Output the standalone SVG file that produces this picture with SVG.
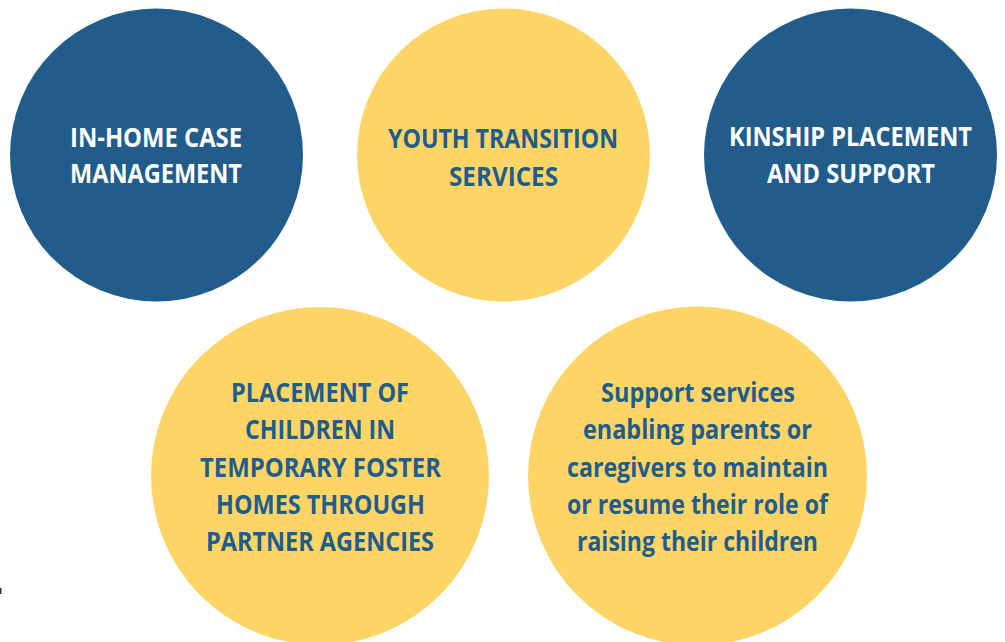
<svg xmlns="http://www.w3.org/2000/svg" width="1005" height="642" viewBox="0 0 1005 642">
<style>
.blue{fill:#215C8B}
.yellow{fill:#FDD567}
text{font-family:"Open Sans","Noto Sans","Liberation Sans",sans-serif;font-weight:bold;font-size:26.5px;text-anchor:middle}
.tw{fill:#FFFFFF}
.tb{fill:#215C8B}
</style>
<rect width="1005" height="642" fill="#FFFFFF"/>
<g id="connectors"></g>
<g id="node-inhome">
<circle class="blue" cx="156.5" cy="155" r="146.5"/>
<text class="tw" x="156" y="147" textLength="172" lengthAdjust="spacingAndGlyphs">IN-HOME CASE</text>
<text class="tw" x="156" y="183" textLength="172" lengthAdjust="spacingAndGlyphs">MANAGEMENT</text>
</g>
<g id="node-youth">
<circle class="yellow" cx="503.5" cy="155" r="146.5"/>
<text class="tb" x="503" y="148" textLength="230" lengthAdjust="spacingAndGlyphs">YOUTH TRANSITION</text>
<text class="tb" x="503.5" y="186" textLength="109" lengthAdjust="spacingAndGlyphs">SERVICES</text>
</g>
<g id="node-kinship">
<circle class="blue" cx="850.5" cy="155" r="146.5"/>
<text class="tw" x="850.5" y="146" textLength="243" lengthAdjust="spacingAndGlyphs">KINSHIP PLACEMENT</text>
<text class="tw" x="851" y="183" textLength="168" lengthAdjust="spacingAndGlyphs">AND SUPPORT</text>
</g>
<g id="node-placement">
<circle class="yellow" cx="320" cy="476" r="169"/>
<text class="tb" x="320" y="402" textLength="178" lengthAdjust="spacingAndGlyphs">PLACEMENT OF</text>
<text class="tb" x="320" y="439" textLength="150" lengthAdjust="spacingAndGlyphs">CHILDREN IN</text>
<text class="tb" x="320.5" y="477" textLength="241" lengthAdjust="spacingAndGlyphs">TEMPORARY FOSTER</text>
<text class="tb" x="320.5" y="514" textLength="209" lengthAdjust="spacingAndGlyphs">HOMES THROUGH</text>
<text class="tb" x="320" y="551" textLength="228" lengthAdjust="spacingAndGlyphs">PARTNER AGENCIES</text>
</g>
<g id="node-support">
<circle class="yellow" cx="697.5" cy="476" r="169.5"/>
<text class="tb" x="698" y="402" textLength="194" lengthAdjust="spacingAndGlyphs">Support services</text>
<text class="tb" x="697.5" y="439" textLength="229" lengthAdjust="spacingAndGlyphs">enabling parents or</text>
<text class="tb" x="697.5" y="477" textLength="261" lengthAdjust="spacingAndGlyphs">caregivers to maintain</text>
<text class="tb" x="697.5" y="514" textLength="261" lengthAdjust="spacingAndGlyphs">or resume their role of</text>
<text class="tb" x="697.5" y="551" textLength="241" lengthAdjust="spacingAndGlyphs">raising their children</text>
</g>
<rect x="0" y="588" width="1.5" height="6" fill="#333333"/>
</svg>
